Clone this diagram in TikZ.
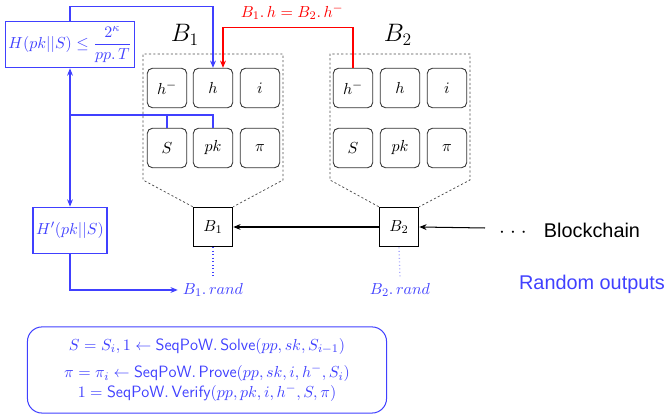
\documentclass[tikz,border=0pt]{standalone}
\usepackage{amsmath}
\usepackage{fontspec}
\newfontfamily\hv{Liberation Sans}
\usetikzlibrary{arrows.meta}
\definecolor{mblue}{RGB}{64,64,255}
\begin{document}
\begin{tikzpicture}[x=0.685pt,y=-0.685pt,
  font=\fontsize{11.2}{13.6}\selectfont,
  cell/.style={draw=black!80, line width=0.6pt, rounded corners=3.5pt, minimum size=27pt, inner sep=0pt},
  blk/.style={draw, line width=0.8pt, minimum size=27pt, inner sep=0pt},
  bl/.style={mblue, line width=0.7pt},
  frm/.style={black!70, line width=0.5pt, dash pattern=on 1.5pt off 1.5pt},
  tip/.style={-{Stealth[length=5pt,width=4pt]}},
  bbox/.style={draw=mblue, text=mblue, line width=0.7pt, inner sep=1pt},
  sans/.style={font=\hv\fontsize{13.6}{16}\selectfont}]
\useasboundingbox (0,0) rectangle (667,420);
% cells of B1
\node[cell] (hm1) at (167,88) {$h^-$};
\node[cell] (h1) at (213,88) {$h$};
\node[cell] (i1) at (260,88) {$i$};
\node[cell] (S1) at (167,148) {$S$};
\node[cell] (pk1) at (213,148) {$pk$};
\node[cell] (pi1) at (260,148) {$\pi$};
% cells of B2
\node[cell] (hm2) at (353,88) {$h^-$};
\node[cell] (h2) at (400,88) {$h$};
\node[cell] (i2) at (447,88) {$i$};
\node[cell] (S2) at (353,148) {$S$};
\node[cell] (pk2) at (400,148) {$pk$};
\node[cell] (pi2) at (447,148) {$\pi$};
% blocks
\node[blk] (B1) at (213,227) {$B_1$};
\node[blk] (B2) at (399,227) {$B_2$};
% frames
\draw[frm] (B1.north west) -- (143,180) -- (143,54) -- (283,54) -- (283,180) -- (B1.north east);
\draw[frm] (B2.north west) -- (330,180) -- (330,54) -- (470,54) -- (470,180) -- (B2.north east);
% headings
\node (t1) at (185,35) {\LARGE $B_1$};
\node (t2) at (398,35) {\LARGE $B_2$};
% hash boxes
\node[bbox, minimum width=89pt, minimum height=32pt] (hb) at (70,44.5) {$H(pk||S) \leq \dfrac{2^\kappa}{pp.\,T}$};
\node[bbox, minimum width=50.7pt, minimum height=32pt] (hp) at (70,230.5) {$H'(pk||S)$};
\coordinate (j) at (70,115);
% red label and connector
\node[text=red] (lab) at (292,12) {$B_1.\,h = B_2.\,h^-$};
\draw[red, line width=0.7pt, tip] (hm2.north) -- ++(0,-40) -| ([xshift=6.85pt]h1.north);
% blue connectors
\draw[bl, tip] (hb.north) -- ++(0,-14) -| (h1.north);
\draw[bl] (pk1.north) |- (j);
\draw[bl] (S1.north) -- (S1.north |- j);
\draw[bl, tip] (j) -- (hb.south);
\draw[bl, tip] (j) -- (hp.north);
% rand outputs
\node[text=mblue] (r1) at (213,290) {$B_1.\,rand$};
\node[text=mblue] (r2) at (400,290) {$B_2.\,rand$};
\draw[bl, tip] (hp.south) |- (r1.west);
\draw[mblue, line width=0.8pt, dash pattern=on 0.8pt off 1.6pt] (B1.south) -- (r1.north);
\draw[mblue!45, line width=0.9pt, dash pattern=on 0.8pt off 1.6pt] (B2.south) -- (r2.north);
% chain
\draw[line width=0.7pt, tip] (B2.west) -- (B1.east);
\coordinate (cin) at (485,228);
\draw[line width=0.7pt, tip] (cin) -- (B2.east);
\node[anchor=base] (dots) at (513,238) {\Large$\mathord{\cdot}\hspace{3.5pt}\mathord{\cdot}\hspace{3.5pt}\mathord{\cdot}$};
\node[anchor=base, sans] (bc) at (592,238) {Blockchain};
\node[anchor=base, sans, text=mblue] (ro) at (592,290) {Random outputs};
% algorithm box
\node[draw=mblue, text=mblue, line width=0.7pt, rounded corners=10pt, minimum width=246pt, minimum height=59pt, align=center, inner sep=2pt] (alg) at (207,370)
  {$S = S_i, 1 \leftarrow \mathsf{SeqPoW}.\,\mathsf{Solve}(pp, sk, S_{i-1})$\\[5pt]
   $\pi = \pi_i \leftarrow \mathsf{SeqPoW}.\,\mathsf{Prove}(pp, sk, i, h^-, S_i)$\\
   $1 = \mathsf{SeqPoW}.\,\mathsf{Verify}(pp, pk, i, h^-, S, \pi)$};
\end{tikzpicture}
\end{document}
